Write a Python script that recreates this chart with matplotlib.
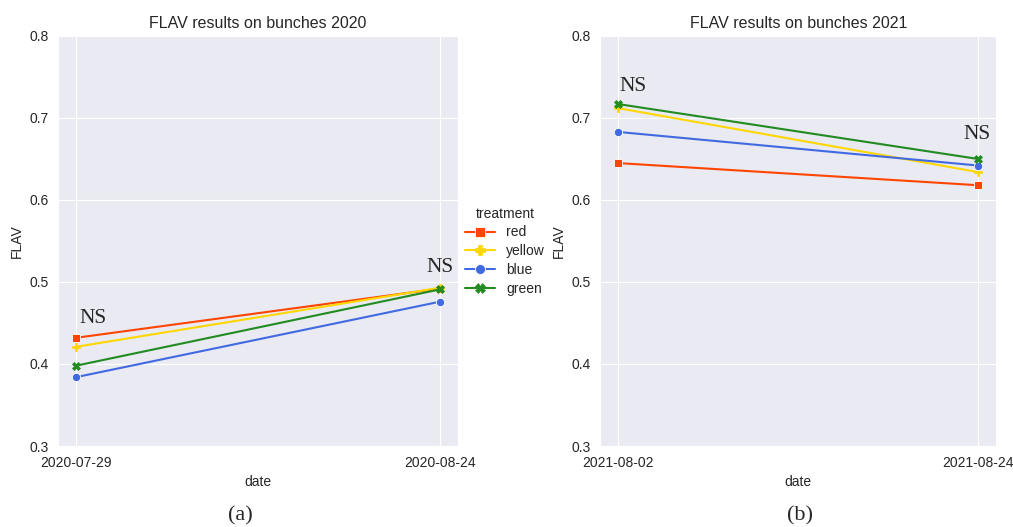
import matplotlib
matplotlib.use("Agg")
import matplotlib.pyplot as plt
import matplotlib.dates as mdates
import seaborn as sns
import numpy as np
import datetime as dt

sns.set_style("darkgrid")
plt.rcParams['font.family'] = ['Liberation Sans', 'DejaVu Sans']
plt.rcParams['font.size'] = 10

treatments = ["red", "yellow", "blue", "green"]
colors = ["#FF4500", "#FFD700", "#4169E1", "#228B22"]
markers = ["s", "P", "o", "X"]

dates_2020 = ["2020-07-29", "2020-08-24"]
flav_2020 = {
    "red":    [0.432, 0.492],
    "yellow": [0.421, 0.493],
    "blue":   [0.384, 0.476],
    "green":  [0.398, 0.491],
}
dates_2021 = ["2021-08-02", "2021-08-24"]
flav_2021 = {
    "red":    [0.645, 0.618],
    "yellow": [0.712, 0.634],
    "blue":   [0.683, 0.642],
    "green":  [0.717, 0.650],
}

fig = plt.figure(figsize=(10.13, 5.27), dpi=100)
ax1 = fig.add_axes([0.0573, 0.1537, 0.395, 0.778])
ax2 = fig.add_axes([0.5925, 0.1537, 0.391, 0.778])

def draw(ax, dates, data, title):
    d = [dt.datetime.strptime(s, "%Y-%m-%d") for s in dates]
    for t, c, m in zip(treatments, colors, markers):
        ax.plot(d, data[t], color=c, marker=m, markersize=6, lw=1.5,
                markeredgecolor='white' if m in ('o', 's') else c,
                markeredgewidth=0.6 if m in ('o', 's') else 0.5, label=t)
    ax.set_xticks(d)
    ax.xaxis.set_major_formatter(mdates.DateFormatter("%Y-%m-%d"))
    ax.set_ylim(0.3, 0.8)
    ax.set_yticks([0.3, 0.4, 0.5, 0.6, 0.7, 0.8])
    ax.tick_params(labelsize=10)
    ax.set_title(title, fontsize=11.5)
    ax.set_xlabel("date", fontsize=10)
    ax.set_ylabel("FLAV", fontsize=10)
    return d

d1 = draw(ax1, dates_2020, flav_2020, "FLAV results on bunches 2020")
d2 = draw(ax2, dates_2021, flav_2021, "FLAV results on bunches 2021")

serif = ['Liberation Serif', 'DejaVu Serif']
ax1.text(d1[0] + dt.timedelta(days=1.2), 0.456, "NS", family=serif, fontsize=15.5, ha='center', va='center')
ax1.text(d1[1] + dt.timedelta(days=0.0), 0.518, "NS", family=serif, fontsize=15.5, ha='center', va='center')
ax2.text(d2[0] + dt.timedelta(days=0.9), 0.739, "NS", family=serif, fontsize=15.5, ha='center', va='center')
ax2.text(d2[1] + dt.timedelta(days=-0.05), 0.680, "NS", family=serif, fontsize=15.5, ha='center', va='center')

leg = ax1.legend(title="treatment", loc='center left', bbox_to_anchor=(0.985, 0.475),
                 frameon=False, fontsize=10, title_fontsize=10, labelspacing=0.35,
                 handlelength=2.2, markerscale=1.2)

fig.text(0.237, 0.022, "(a)", family=serif, fontsize=16, ha='center', va='center')
fig.text(0.79, 0.022, "(b)", family=serif, fontsize=16, ha='center', va='center')

fig.savefig("out.png", dpi=100)
